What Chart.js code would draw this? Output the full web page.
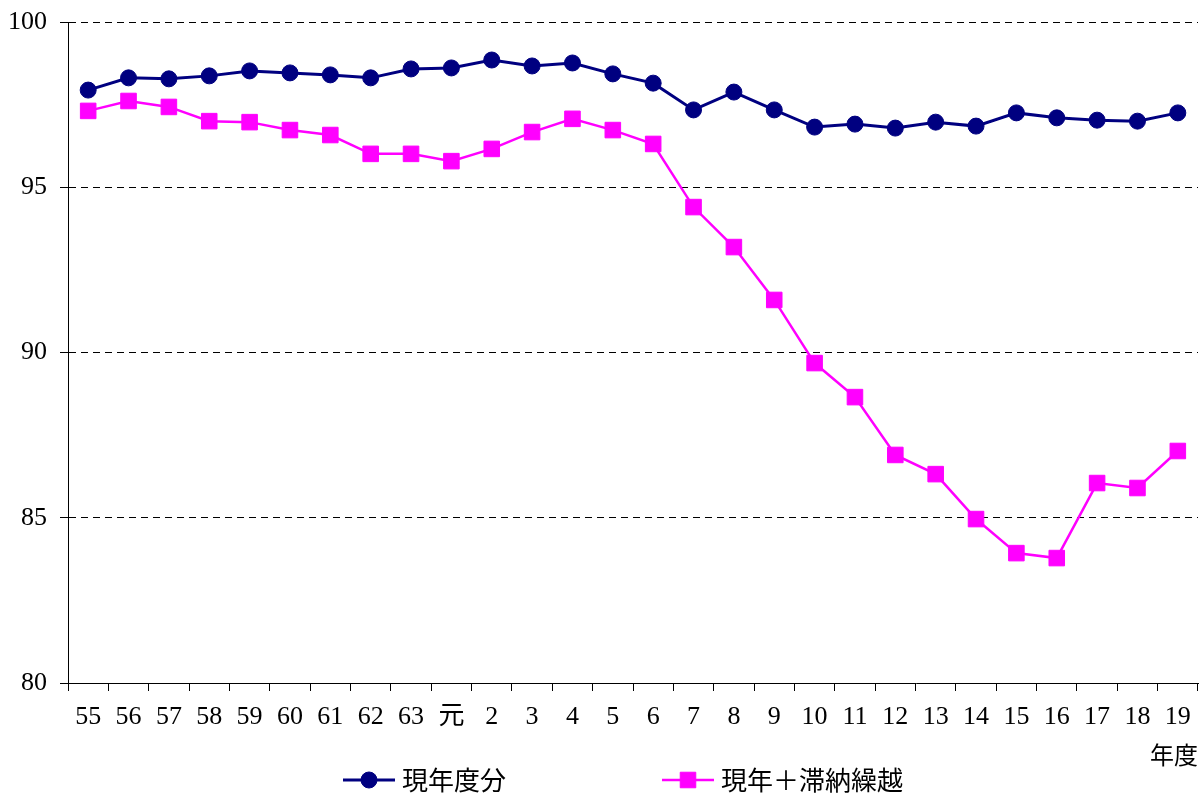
<!DOCTYPE html>
<html>
<head>
<meta charset="utf-8">
<script src="https://cdn.jsdelivr.net/npm/chart.js@4/dist/chart.umd.min.js"></script>
<style>
  html, body { margin: 0; padding: 0; background: #fff; }
  #wrap { width: 1204px; height: 795px; }
</style>
</head>
<body>
<div id="wrap"><canvas id="chartRate" width="1204" height="795"></canvas></div>
<script>
// 年度ラベル
const years = ['55', '56', '57', '58', '59', '60', '61', '62', '63', '元',
  '2', '3', '4', '5', '6', '7', '8', '9', '10', '11', '12', '13', '14',
  '15', '16', '17', '18', '19'];

// 現年度分
const currentYear = [97.94, 98.31, 98.28, 98.37, 98.52, 98.46, 98.40, 98.31, 98.58, 98.61,
  98.85, 98.67, 98.76, 98.43, 98.15, 97.34, 97.88, 97.34, 96.82, 96.91,
  96.79, 96.97, 96.85, 97.25, 97.10, 97.03, 97.00, 97.25];

// 現年＋滞納繰越
const withArrears = [97.31, 97.61, 97.43, 97.00, 96.97, 96.73, 96.58, 96.01, 96.01, 95.79,
  96.16, 96.67, 97.07, 96.73, 96.31, 94.40, 93.19, 91.59, 89.68, 88.65,
  86.90, 86.32, 84.96, 83.93, 83.78, 86.05, 85.90, 87.02];

const yTicks = [80, 85, 90, 95, 100];

const serif = "'Liberation Serif', 'Noto Sans CJK JP', serif";
const cjk = "'Noto Sans CJK JP', sans-serif";

// 凡例 (線+マーカー) を下に描く
const bottomLegend = {
    id: 'bottomLegend',
    afterDraw(chart) {
        const ctx = chart.ctx;
        const y = 780;
        const starts = [343, 662];
        chart.data.datasets.forEach((ds, i) => {
            const x0 = starts[i];
            ctx.save();
            ctx.strokeStyle = ds.borderColor;
            ctx.lineWidth = ds.borderWidth;
            ctx.beginPath();
            ctx.moveTo(x0, y);
            ctx.lineTo(x0 + 52, y);
            ctx.stroke();
            ctx.fillStyle = ds.backgroundColor;
            ctx.lineWidth = 1;
            Chart.helpers.drawPoint(ctx, {
                pointStyle: ds.pointStyle,
                radius: ds.pointRadius,
                borderWidth: 1
            }, x0 + 26, y);
            ctx.fillStyle = '#000';
            ctx.font = '26px ' + cjk;
            ctx.textAlign = 'left';
            ctx.textBaseline = 'middle';
            ctx.fillText(ds.label, x0 + 59, y);
            ctx.restore();
        });
    }
};

const ctx = document.getElementById('chartRate');
new Chart(ctx, {
    type: 'line',
    data: {
        labels: years,
        datasets: [{
            label: '現年度分',
            data: currentYear,
            borderColor: '#000080',
            backgroundColor: '#000080',
            borderWidth: 3,
            pointStyle: 'circle',
            pointRadius: 8,
            pointBorderWidth: 1,
            tension: 0
        }, {
            label: '現年＋滞納繰越',
            data: withArrears,
            borderColor: '#ff00ff',
            backgroundColor: '#ff00ff',
            borderWidth: 2.5,
            pointStyle: 'rect',
            pointRadius: 11,
            pointBorderWidth: 1,
            tension: 0
        }]
    },
    options: {
        responsive: false,
        animation: false,
        layout: { autoPadding: false, padding: { top: 22, right: 6, left: 0, bottom: 0 } },
        plugins: {
            legend: { display: false },
            tooltip: { enabled: false }
        },
        scales: {
            x: {
                offset: true,
                grid: {
                    offset: true,
                    drawOnChartArea: false,
                    drawTicks: true,
                    tickLength: 8,
                    tickColor: '#000',
                    tickWidth: 1
                },
                border: { display: true, color: '#000', width: 1 },
                ticks: {
                    color: '#000',
                    padding: 11,
                    maxRotation: 0,
                    autoSkip: false,
                    font: { family: serif, size: 26 }
                },
                title: {
                    display: true,
                    text: '年度',
                    align: 'end',
                    color: '#000',
                    padding: { top: 0, bottom: 23 },
                    font: { family: serif, size: 24 }
                },
                afterFit(scale) {
                    scale.height = 112;
                    scale.paddingLeft = 0;
                    scale.paddingRight = 0;
                }
            },
            y: {
                min: 80,
                max: 100,
                afterBuildTicks(scale) {
                    scale.ticks = yTicks.map(v => ({ value: v }));
                },
                grid: {
                    color: '#000',
                    lineWidth: 1,
                    tickLength: 8,
                    tickColor: '#000',
                    tickBorderDash: []
                },
                border: { display: true, color: '#000', width: 1, dash: [7, 5] },
                ticks: {
                    color: '#000',
                    padding: 13,
                    font: { family: serif, size: 26 }
                },
                afterFit(scale) {
                    scale.width = 68;
                    scale.paddingTop = 0;
                    scale.paddingBottom = 0;
                }
            }
        }
    },
    plugins: [bottomLegend]
});
</script>
</body>
</html>
